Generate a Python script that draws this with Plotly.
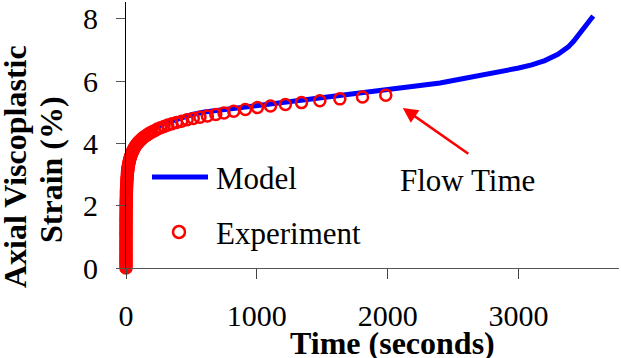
import plotly.graph_objects as go

# ---- data ----
exp_time = [0, 0.01, 0.015, 0.02, 0.03, 0.03, 0.04, 0.04, 0.05, 0.06, 0.07, 0.08, 0.09, 0.1,
            0.11, 0.13, 0.15, 0.16, 0.18, 0.21, 0.24, 0.27, 0.3, 0.34, 0.39, 0.44, 0.5, 0.57,
            0.65, 0.74, 0.84, 0.95, 1.1, 1.2, 1.4, 1.6, 1.8, 2.0, 2.3, 2.6, 3.0, 3.4, 3.8, 4.3,
            4.9, 5.6, 6.4, 7.2, 8.2, 9.3,
            10.3, 11.3, 12.4, 13.7, 15, 16.5, 18, 20, 22, 24, 27, 29, 32, 35, 39, 43, 47, 52,
            57, 63, 69, 76, 84, 92, 102, 112, 123, 135, 149, 164, 180, 198, 218, 240, 264, 290,
            319, 351, 386, 425, 467, 514, 565,
            622, 686, 749, 823, 912, 1004, 1104, 1218, 1341, 1481, 1634, 1807, 1985]
exp_strain = [0, 0.06, 0.12, 0.18, 0.24, 0.30, 0.36, 0.42, 0.48, 0.54, 0.60, 0.66, 0.72, 0.78,
              0.84, 0.90, 0.96, 1.02, 1.08, 1.14, 1.20, 1.26, 1.32, 1.38, 1.44, 1.50, 1.56, 1.62,
              1.68, 1.74, 1.80, 1.86, 1.92, 1.98, 2.04, 2.10, 2.16, 2.22, 2.28, 2.34, 2.40, 2.46,
              2.52, 2.58, 2.64, 2.70, 2.76, 2.82, 2.88, 2.94,
              3.02, 3.07, 3.11, 3.15, 3.20, 3.24, 3.28, 3.33, 3.37, 3.41, 3.46, 3.50, 3.54, 3.59,
              3.63, 3.67, 3.72, 3.76, 3.80, 3.85, 3.89, 3.94, 3.98, 4.03, 4.07, 4.11, 4.16, 4.20,
              4.24, 4.28, 4.33, 4.37, 4.41, 4.46, 4.50, 4.54, 4.59, 4.63, 4.67, 4.71, 4.76, 4.80,
              4.84,
              4.88, 4.93, 4.98, 5.03, 5.09, 5.15, 5.20, 5.25, 5.31, 5.37, 5.43, 5.49, 5.55]

model_time = [0, 1, 3, 10, 20, 40, 70, 100, 150, 200, 300, 400, 500, 600, 800, 1000, 1200,
              1400, 1600, 1800, 2000, 2200, 2400, 2600, 2800, 3000, 3100, 3200, 3300, 3340,
              3380, 3420, 3500, 3570]
model_strain = [0, 2.1, 2.65, 3.15, 3.45, 3.78, 4.02, 4.16, 4.33, 4.46, 4.65, 4.80, 4.92, 5.01,
                5.12, 5.22, 5.32, 5.42, 5.52, 5.62, 5.70, 5.80, 5.94, 6.10, 6.25, 6.42, 6.52,
                6.66, 6.86, 6.98, 7.10, 7.28, 7.70, 8.09]

x_ticks = [0, 1000, 2000, 3000]
y_ticks = [0, 2, 4, 6, 8]

FONT = "Liberation Serif"

fig = go.Figure()
fig.add_trace(go.Scatter(x=model_time, y=model_strain, mode="lines", name="Model",
                         line=dict(color="#0000FF", width=5), showlegend=False))
fig.add_trace(go.Scatter(x=exp_time, y=exp_strain, mode="markers", name="Experiment",
                         marker=dict(symbol="circle-open", size=11, color="#FF0000",
                                     line=dict(width=2.5, color="#FF0000")),
                         cliponaxis=False, showlegend=False))

W, H = 621, 358
L, R, T, B = 126, 2, 2, 90
pw, ph = W - L - R, H - T - B


def px(x):
    return (x - L) / pw


def py(y):
    return (H - B - y) / ph


# manual legend
fig.add_shape(type="line", xref="paper", yref="paper", x0=px(152), x1=px(208), y0=py(177),
              y1=py(177), line=dict(color="#0000FF", width=5))
fig.add_shape(type="circle", xref="paper", yref="paper", x0=px(173), x1=px(185), y0=py(226),
              y1=py(238), line=dict(color="#FF0000", width=2.5))
fig.add_annotation(xref="paper", yref="paper", x=px(214), y=py(178), text="Model",
                   showarrow=False, xanchor="left", yanchor="middle",
                   font=dict(family=FONT, size=31, color="black"))
fig.add_annotation(xref="paper", yref="paper", x=px(214), y=py(233), text="Experiment",
                   showarrow=False, xanchor="left", yanchor="middle",
                   font=dict(family=FONT, size=31, color="black"))

# flow time annotation
fig.add_annotation(x=2115, y=5.14, ax=67, ay=47, text="", showarrow=True, arrowhead=2,
                   arrowsize=1.2, arrowwidth=2.5, arrowcolor="#FF0000", standoff=0)
fig.add_annotation(xref="paper", yref="paper", x=px(467), y=py(181), text="Flow Time",
                   showarrow=False, xanchor="center", yanchor="middle",
                   font=dict(family=FONT, size=31, color="black"))

# axis titles
fig.add_annotation(xref="paper", yref="paper", x=px(392), y=py(343), text="<b>Time (seconds)</b>",
                   showarrow=False, xanchor="center", yanchor="middle",
                   font=dict(family=FONT, size=32, color="black"))
fig.add_annotation(xref="paper", yref="paper", x=px(15), y=py(167),
                   text="<b>Axial Viscoplastic</b>", textangle=-90,
                   showarrow=False, xanchor="center", yanchor="middle",
                   font=dict(family=FONT, size=32, color="black"))
fig.add_annotation(xref="paper", yref="paper", x=px(51), y=py(170),
                   text="<b>Strain (%)</b>", textangle=-90,
                   showarrow=False, xanchor="center", yanchor="middle",
                   font=dict(family=FONT, size=32, color="black"))

fig.update_layout(
    width=W, height=H, margin=dict(l=L, r=R, t=T, b=B),
    paper_bgcolor="white", plot_bgcolor="white", showlegend=False,
    font=dict(family=FONT, color="black"),
    xaxis=dict(range=[0, 3767], tickvals=x_ticks, ticks="outside", ticklen=10,
               tickcolor="#444", showline=True, linecolor="#555", linewidth=1,
               showgrid=False, zeroline=False, ticklabelstandoff=11,
               tickfont=dict(family=FONT, size=30, color="black")),
    yaxis=dict(range=[0, 8.54], tickvals=y_ticks, ticks="outside", ticklen=9,
               tickcolor="#555", showline=True, linecolor="black", linewidth=1,
               showgrid=False, zeroline=False, ticklabelstandoff=12,
               tickfont=dict(family=FONT, size=30, color="black")),
)

fig.write_html("out.html")
